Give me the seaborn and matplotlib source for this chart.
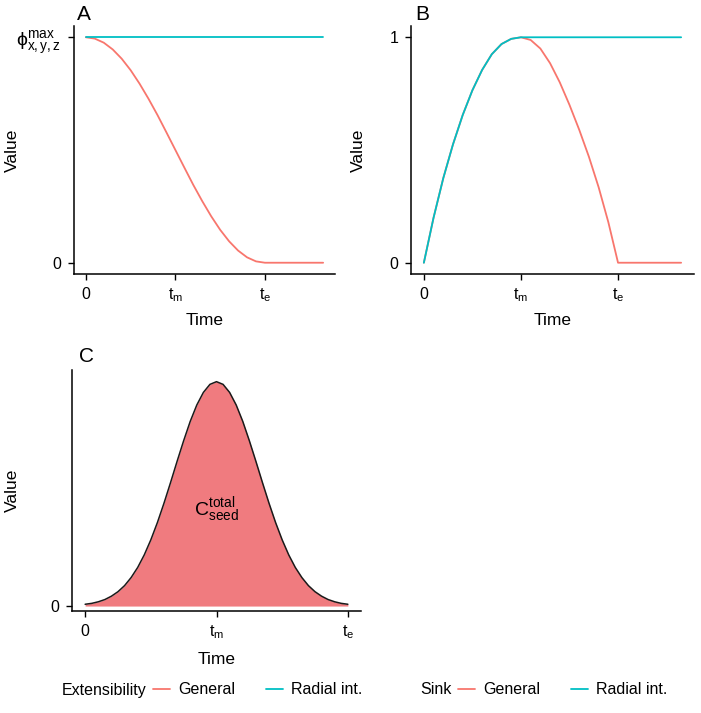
import pandas as pd
import seaborn as sns
import matplotlib.pyplot as plt
from matplotlib.lines import Line2D

# values (time in units of t_m, t_e = 2 t_m)
TIME_A = [0.0, 0.1, 0.2, 0.3, 0.4, 0.5, 0.6, 0.7, 0.8, 0.9, 1.0,
          1.1, 1.2, 1.3, 1.4, 1.5, 1.6, 1.7, 1.8, 1.9, 2.0, 2.65]
A_GENERAL = [1.000, 0.994, 0.976, 0.946, 0.905, 0.854, 0.794, 0.727, 0.655, 0.578, 0.500,
             0.422, 0.345, 0.273, 0.206, 0.146, 0.095, 0.054, 0.024, 0.006, 0.000, 0.000]
TIME_A_RADIAL = [0.0, 2.65]
A_RADIAL = [1.0, 1.0]

TIME_B = [0.0, 0.1, 0.2, 0.3, 0.4, 0.5, 0.6, 0.7, 0.8, 0.9, 1.0,
          1.1, 1.2, 1.3, 1.4, 1.5, 1.6, 1.7, 1.8, 1.9, 2.0, 2.65]
B_GENERAL = [0.000, 0.200, 0.375, 0.525, 0.655, 0.765, 0.855, 0.925, 0.970, 0.993, 1.000,
             0.988, 0.950, 0.885, 0.800, 0.700, 0.590, 0.470, 0.335, 0.180, 0.000, 0.000]
TIME_B_RADIAL = [0.0, 0.1, 0.2, 0.3, 0.4, 0.5, 0.6, 0.7, 0.8, 0.9, 1.0, 2.65]
B_RADIAL = [0.000, 0.200, 0.375, 0.525, 0.655, 0.765, 0.855, 0.925, 0.970, 0.993, 1.000, 1.000]

TIME_C = [0.0, 0.05, 0.1, 0.15, 0.2, 0.25, 0.3, 0.35, 0.4, 0.45, 0.5,
          0.55, 0.6, 0.65, 0.7, 0.75, 0.8, 0.85, 0.9, 0.95, 1.0,
          1.05, 1.1, 1.15, 1.2, 1.25, 1.3, 1.35, 1.4, 1.45, 1.5,
          1.55, 1.6, 1.65, 1.7, 1.75, 1.8, 1.85, 1.9, 1.95, 2.0]
C_SEED = [0.008, 0.012, 0.019, 0.029, 0.044, 0.064, 0.091, 0.127, 0.172, 0.228, 0.295,
          0.372, 0.458, 0.550, 0.645, 0.737, 0.823, 0.896, 0.952, 0.988, 1.000,
          0.988, 0.952, 0.896, 0.823, 0.737, 0.645, 0.550, 0.458, 0.372, 0.295,
          0.228, 0.172, 0.127, 0.091, 0.064, 0.044, 0.029, 0.019, 0.012, 0.008]

SERIES = ["General", "Radial int."]
X_TICKS = [0, 1, 2]
X_TICK_LABELS = ["0", r"$\mathregular{t_m}$", r"$\mathregular{t_e}$"]

COLORS = {"General": "#F8766D", "Radial int.": "#00BFC4"}
FILL = "#F07B7F"

sns.set_theme(style="ticks")
plt.rcParams["font.family"] = ["Liberation Sans", "DejaVu Sans"]
plt.rcParams["mathtext.fontset"] = "custom"
plt.rcParams["mathtext.rm"] = "Liberation Sans"
plt.rcParams["mathtext.it"] = "Liberation Sans:italic"
plt.rcParams["text.color"] = "black"
plt.rcParams["axes.labelcolor"] = "black"

W, H = 701, 713
fig = plt.figure(figsize=(W / 100, H / 100), dpi=100)


def px_axes(left, top, right, bottom):
    return fig.add_axes([left / W, 1 - bottom / H, (right - left) / W, (bottom - top) / H])


def long_df(parts):
    frames = [pd.DataFrame({"Time": t, "Value": v, "Series": s}) for t, v, s in parts]
    return pd.concat(frames, ignore_index=True)


def style(ax, box, xmax, ylim, ylab_x, xlab_y):
    left, top, right, bottom = box
    ax.set_xlim(-0.05 * xmax, xmax * 1.05)
    ax.set_ylim(*ylim)
    ax.set_xticks(X_TICKS)
    ax.set_xticklabels(X_TICK_LABELS)
    ax.tick_params(axis="both", length=4, width=1, color="black",
                   labelsize=11.5, labelcolor="black", pad=5)
    for s in ["left", "bottom"]:
        ax.spines[s].set_linewidth(1.1)
        ax.spines[s].set_color("black")
    sns.despine(ax=ax)
    ax.set_xlabel("Time", fontsize=12.5, va="center")
    ax.set_ylabel("Value", fontsize=12.5, va="center")
    # label positions given in pixels of the figure
    ax.yaxis.set_label_coords((ylab_x - left) / (right - left), 0.5)
    ax.xaxis.set_label_coords(0.5, (bottom - xlab_y) / (bottom - top))
    if ax.get_legend() is not None:
        ax.get_legend().remove()


# panel A
box_a = (74, 26, 335, 274)
df_a = long_df([(TIME_A, A_GENERAL, "General"), (TIME_A_RADIAL, A_RADIAL, "Radial int.")])
ax_a = px_axes(*box_a)
sns.lineplot(data=df_a, x="Time", y="Value", hue="Series", hue_order=SERIES,
             palette=COLORS, linewidth=1.3, ax=ax_a, estimator=None, sort=False)
style(ax_a, box_a, max(TIME_A), (-0.05, 1.05), 12, 320)
ax_a.set_yticks([0, 1])
ax_a.set_yticklabels(["0", r"$\mathregular{ϕ^{max}_{x,y,z}}$"])
ax_a.get_yticklabels()[1].set_fontsize(14)

# panel B
box_b = (411, 26, 694, 274)
df_b = long_df([(TIME_B, B_GENERAL, "General"), (TIME_B_RADIAL, B_RADIAL, "Radial int.")])
ax_b = px_axes(*box_b)
sns.lineplot(data=df_b, x="Time", y="Value", hue="Series", hue_order=SERIES,
             palette=COLORS, linewidth=1.3, ax=ax_b, estimator=None, sort=False)
style(ax_b, box_b, max(TIME_B), (-0.05, 1.05), 358, 320)
ax_b.set_yticks([0, 1])
ax_b.set_yticklabels(["0", "1"])

# panel C
box_c = (72, 370, 361, 611)
ax_c = px_axes(*box_c)
ax_c.fill_between(TIME_C, 0, C_SEED, color=FILL, linewidth=0)
sns.lineplot(x=TIME_C, y=C_SEED, color="#1a1a1a", linewidth=1.1, ax=ax_c,
             estimator=None, sort=False)
style(ax_c, box_c, max(TIME_C), (-0.022, 1.052), 12, 660)
ax_c.set_yticks([0])
ax_c.set_yticklabels(["0"])
ax_c.text(1.0, 0.43, r"$\mathregular{C^{total}_{seed}}$", ha="center", va="center",
          fontsize=14, color="black")

for lab, x, y in [("A", 84, 15), ("B", 422, 15), ("C", 87, 356)]:
    fig.text(x / W, 1 - y / H, lab, fontsize=15, ha="center", va="center")


# bottom legends
def bottom_legend(title, x_title, x_keys):
    fig.text(x_title / W, 1 - 690 / H, title, fontsize=11.5, ha="left", va="center")
    handles = [Line2D([], [], color=COLORS[s], linewidth=1.3) for s in SERIES]
    fig.legend(handles, SERIES, loc="center left", bbox_to_anchor=(x_keys / W, 1 - 690 / H),
               ncol=2, frameon=False, fontsize=11.5, handlelength=1.05,
               handletextpad=0.55, columnspacing=1.9, borderpad=0, borderaxespad=0)


bottom_legend("Extensibility", 62, 153)
bottom_legend("Sink", 420, 458)

fig.savefig("out.png", dpi=100)
